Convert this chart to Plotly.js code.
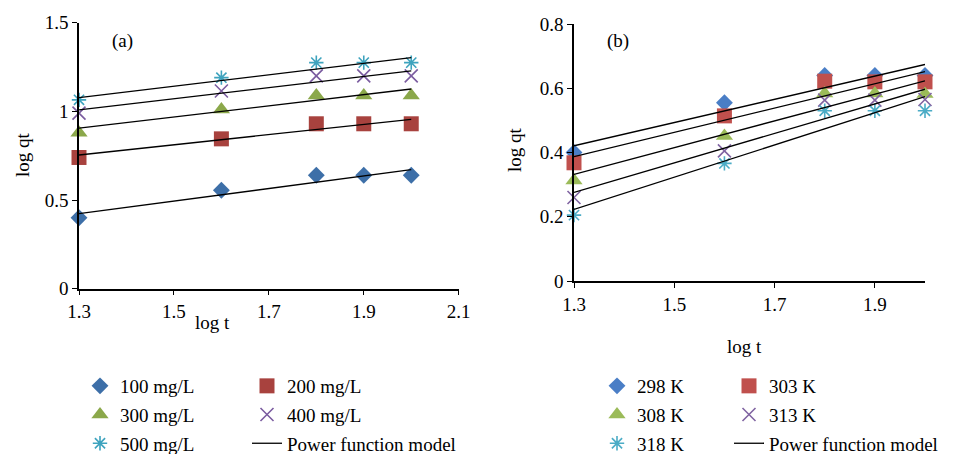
<!DOCTYPE html>
<html><head><meta charset="utf-8">
<script src="https://cdn.plot.ly/plotly-3.0.1.min.js"></script>
<style>html,body{margin:0;padding:0;background:#fff}#chart{width:963px;height:454px}</style>
</head><body><div id="chart"></div>
<script>
// ---- data ----
const logT = [1.3, 1.6, 1.8, 1.9, 2.0];
const fitX = [1.3, 2.0];

// panel (a): initial concentration
const concLabels = ["100 mg/L", "200 mg/L", "300 mg/L", "400 mg/L", "500 mg/L"];
const conc100 = [0.40, 0.555, 0.64, 0.64, 0.64];
const conc200 = [0.74, 0.845, 0.93, 0.93, 0.93];
const conc300 = [0.88, 1.01, 1.09, 1.09, 1.09];
const conc400 = [0.99, 1.115, 1.20, 1.20, 1.20];
const conc500 = [1.065, 1.19, 1.275, 1.275, 1.275];
const fitA100 = [0.423, 0.671];
const fitA200 = [0.754, 0.955];
const fitA300 = [0.905, 1.126];
const fitA400 = [1.008, 1.228];
const fitA500 = [1.077, 1.303];

// panel (b): temperature
const tempLabels = ["298 K", "303 K", "308 K", "313 K", "318 K"];
const temp298 = [0.40, 0.555, 0.64, 0.64, 0.64];
const temp303 = [0.368, 0.514, 0.622, 0.62, 0.62];
const temp308 = [0.313, 0.451, 0.584, 0.584, 0.582];
const temp313 = [0.26, 0.405, 0.563, 0.563, 0.565];
const temp318 = [0.205, 0.366, 0.53, 0.53, 0.53];
const fitB298 = [0.421, 0.674];
const fitB303 = [0.387, 0.652];
const fitB308 = [0.332, 0.623];
const fitB313 = [0.276, 0.597];
const fitB318 = [0.223, 0.574];

const modelLabel = "Power function model";

// ---- styles ----
const FONT = "Liberation Serif, Times New Roman, serif";
const colsA = ["#3D6FA8", "#A8423E", "#8BA84A", "#7B5CA0", "#3EA3BE"];
const colsB = ["#4A7EC6", "#C0504D", "#9BBB59", "#8064A2", "#4BACC6"];
function mk(col, i) {
  if (i === 0) return {symbol: "diamond", size: 13, color: col};
  if (i === 1) return {symbol: "square", size: 15, color: col};
  if (i === 2) return {symbol: "triangle-up", size: 15, color: col};
  if (i === 3) return {symbol: "x-thin-open", size: 13, color: col, line: {color: col, width: 1.6}};
  return {symbol: "asterisk-open", size: 12, color: col, line: {color: col, width: 1.6}};
}
const traces = [];
function addPanel(series, labels, cols, fits, xa, ya, legA, legB) {
  const legs = [legA, legB, legA, legB, legA];
  series.forEach((s, i) => {
    traces.push({
      x: logT, y: s, type: "scatter", mode: "markers", name: labels[i],
      xaxis: xa, yaxis: ya, legend: legs[i], legendgroup: xa + "g" + i,
      marker: mk(cols[i], i), cliponaxis: false, hoverinfo: "x+y"
    });
  });
  fits.forEach((f, i) => {
    traces.push({
      x: fitX, y: f, type: "scatter", mode: "lines", name: modelLabel,
      xaxis: xa, yaxis: ya, legend: legB, legendgroup: xa + "fit",
      showlegend: i === 0, line: {color: "#000", width: 1.3}, cliponaxis: false
    });
  });
}
addPanel([conc100, conc200, conc300, conc400, conc500], concLabels, colsA,
  [fitA100, fitA200, fitA300, fitA400, fitA500], "x", "y", "legend", "legend2");
addPanel([temp298, temp303, temp308, temp313, temp318], tempLabels, colsB,
  [fitB298, fitB303, fitB308, fitB313, fitB318], "x2", "y2", "legend3", "legend4");

const W = 963, H = 454;
const px = v => v / W, py = v => 1 - v / H;
const axBase = {
  showline: true, linecolor: "#000", linewidth: 1.5, ticks: "outside", ticklen: 5,
  tickcolor: "#000", tickwidth: 1.3, showgrid: false, zeroline: false,
  tickfont: {family: FONT, size: 19, color: "#000"}
};
const legBase = {
  orientation: "v", xanchor: "left", yanchor: "top", bgcolor: "rgba(0,0,0,0)",
  font: {family: FONT, size: 19, color: "#000"}, traceorder: "grouped",
  tracegroupgap: 1, itemclick: false, itemdoubleclick: false
};
const legY = py(367);
const ann = (text, x, y, angle) => ({
  text: text, x: px(x), y: py(y), xref: "paper", yref: "paper", showarrow: false,
  xanchor: "center", yanchor: "middle", textangle: angle || 0,
  font: {family: FONT, size: 19, color: "#000"}
});
const layout = {
  width: W, height: H, margin: {l: 0, r: 0, t: 0, b: 0, autoexpand: false},
  paper_bgcolor: "#fff", plot_bgcolor: "#fff", showlegend: true,
  font: {family: FONT, color: "#000"},
  xaxis: Object.assign({}, axBase, {domain: [px(79), px(458.7)], range: [1.3, 2.1],
    tick0: 1.3, dtick: 0.2, anchor: "y", tickformat: ".1f"}),
  yaxis: Object.assign({}, axBase, {domain: [py(288.7), py(22.7)], range: [0, 1.5],
    dtick: 0.5, anchor: "x"}),
  xaxis2: Object.assign({}, axBase, {domain: [px(574), px(925)], range: [1.3, 2.0],
    tick0: 1.3, dtick: 0.2, anchor: "y2", tickformat: ".1f"}),
  yaxis2: Object.assign({}, axBase, {domain: [py(281), py(24)], range: [0, 0.8],
    dtick: 0.2, anchor: "x2"}),
  legend: Object.assign({}, legBase, {x: px(80), y: legY}),
  legend2: Object.assign({}, legBase, {x: px(247), y: legY}),
  legend3: Object.assign({}, legBase, {x: px(597), y: legY}),
  legend4: Object.assign({}, legBase, {x: px(729), y: legY}),
  annotations: [
    ann("(a)", 123, 41),
    ann("(b)", 618, 41),
    ann("log qt", 22, 155, -90),
    ann("log qt", 514, 150, -90),
    ann("log t", 212, 322),
    ann("log t", 744, 346)
  ]
};
Plotly.newPlot("chart", traces, layout, {displayModeBar: false});
</script></body></html>
